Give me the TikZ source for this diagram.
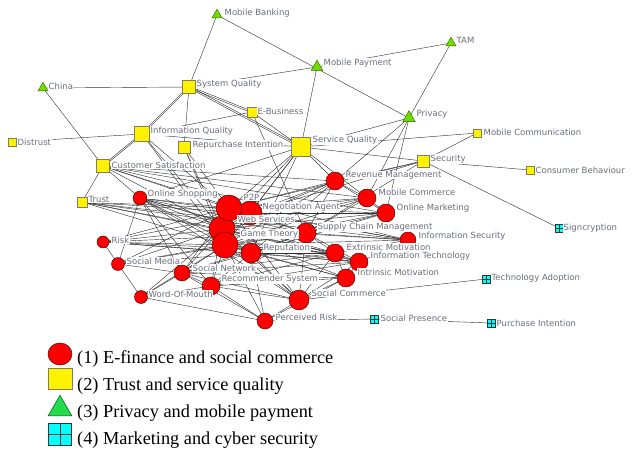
\documentclass[tikz,border=0pt]{standalone}
\usepackage{fontspec}
\setmainfont{Liberation Serif}
\newfontfamily\labfont{DejaVu Sans}
\usetikzlibrary{shapes.geometric}
\pgfdeclarelayer{edgelayer}
\pgfdeclarelayer{labellayer}
\pgfsetlayers{edgelayer,main,labellayer}
\definecolor{labgray}{RGB}{105,110,125}
\definecolor{lnkgray}{RGB}{50,50,50}
\definecolor{limegreen}{RGB}{110,222,0}
\definecolor{trigreen}{RGB}{35,220,75}
\definecolor{sqborder}{RGB}{130,125,95}
\definecolor{cyanfill}{RGB}{0,255,255}
\begin{document}
\begin{tikzpicture}[x=1pt,y=-1pt,
  cnode/.style={circle, draw={rgb,255:red,70;green,0;blue,0}, fill=red, line width=0.45pt, inner sep=0pt},
  snode/.style={rectangle, draw=sqborder, fill=yellow, line width=0.5pt, inner sep=0pt},
  tnode/.style={regular polygon, regular polygon sides=3, draw={rgb,255:red,60;green,100;blue,0}, fill=limegreen, line width=0.45pt, inner sep=0pt},
  gnode/.style={rectangle, draw=black!80, fill=cyanfill, line width=0.45pt, inner sep=0pt,
     path picture={\draw[black!80, line width=0.45pt] (path picture bounding box.north) -- (path picture bounding box.south) (path picture bounding box.west) -- (path picture bounding box.east);}},
  lab/.style={font=\labfont\fontsize{8.5}{10}\selectfont, text=labgray, fill=white, inner sep=0.5pt, anchor=west},
  lnk/.style={draw=lnkgray, line width=0.42pt},
  legtext/.style={font=\fontsize{18.3}{20}\selectfont, anchor=base west, inner sep=0pt}
]
\useasboundingbox (0,0) rectangle (637,455);

% ---------- nodes: triangles ----------
\node[tnode, minimum size=11.5pt] (mb) at (217,15) {};
\node[tnode, minimum size=11.5pt] (china) at (43,88) {};
\node[tnode, minimum size=13.5pt] (mp) at (317,67) {};
\node[tnode, minimum size=11.5pt] (tam) at (451,43) {};
\node[tnode, minimum size=14.5pt] (priv) at (409,118) {};
% ---------- squares ----------
\node[snode, minimum size=13pt] (syq) at (189,87) {};
\node[snode, minimum size=10pt] (eb) at (252,112) {};
\node[snode, minimum size=15pt] (iq) at (142,134) {};
\node[snode, minimum size=12pt] (ri) at (184,147) {};
\node[snode, minimum size=8pt] (dis) at (12,142) {};
\node[snode, minimum size=13pt] (cs) at (103,166) {};
\node[snode, minimum size=10pt] (trust) at (82,202) {};
\node[snode, minimum size=19pt] (svq) at (301,147) {};
\node[snode, minimum size=8pt] (mcomm) at (477,133) {};
\node[snode, minimum size=12pt] (sec) at (423,161) {};
\node[snode, minimum size=7.5pt] (cb) at (530,170) {};
% ---------- cyan ----------
\node[gnode, minimum size=8pt] (sign) at (559,228) {};
\node[gnode, minimum size=8pt] (ta) at (486,279) {};
\node[gnode, minimum size=8pt] (sp) at (374,319) {};
\node[gnode, minimum size=8pt] (pi) at (491,323) {};
% ---------- circles ----------
\node[cnode, minimum size=14pt] (os) at (140,198) {};
\node[cnode, minimum size=12pt] (risk) at (103,242) {};
\node[cnode, minimum size=13pt] (sm) at (118,264) {};
\node[cnode, minimum size=13pt] (wom) at (141,297) {};
\node[cnode, minimum size=16pt] (sn) at (182,273) {};
\node[cnode, minimum size=18pt] (rs) at (211,286) {};
\node[cnode, minimum size=24pt] (na) at (250,213) {};
\node[cnode, minimum size=26pt] (ws) at (222,229) {};
\node[cnode, minimum size=26pt] (p2p) at (229,208) {};
\node[cnode, minimum size=26pt] (gt) at (225,245) {};
\node[cnode, minimum size=20pt] (rep) at (251,253) {};
\node[cnode, minimum size=20pt] (scm) at (306,233) {};
\node[cnode, minimum size=18pt] (rm) at (335,181) {};
\node[cnode, minimum size=18pt] (mcom) at (367,198) {};
\node[cnode, minimum size=18pt] (om) at (386,213) {};
\node[cnode, minimum size=18pt] (em) at (335,253) {};
\node[cnode, minimum size=18pt] (it) at (359,262) {};
\node[cnode, minimum size=18pt] (im) at (346,278) {};
\node[cnode, minimum size=16pt] (is) at (408,240) {};
\node[cnode, minimum size=20pt] (sc) at (299,300) {};
\node[cnode, minimum size=16pt] (pr) at (265,321) {};

% ---------- edges ----------
\begin{pgfonlayer}{edgelayer}
\foreach \a/\b in {mb/syq, mb/priv, syq/mp, mp/tam, mp/svq, tam/priv, china/syq, china/cs, syq/ri,
  eb/iq, eb/scm, eb/svq, dis/iq, iq/svq, iq/p2p, iq/ws, iq/gt, ri/p2p, ri/ws, ri/gt,
  svq/os, svq/priv, svq/mcomm, svq/sec, svq/rm, svq/p2p, svq/na, svq/ws, svq/gt, svq/rep, svq/mcom,
  priv/rep, priv/mcom, priv/om, mcomm/sec, sec/cb, sec/sign, sec/rm, sec/na, sec/p2p, sec/scm,
  sc/ta, pr/sp, sp/pi, wom/pr, risk/sm, sm/wom, os/sm, trust/cs,
  cs/os, cs/p2p, cs/na, cs/ws, cs/om, cs/mcom, cs/is, cs/rm,
  trust/p2p, trust/na, trust/ws, trust/gt, trust/scm, trust/em, trust/is,
  os/p2p, os/ws, os/gt, os/na, os/rep, os/scm, os/em, os/it, os/rs, os/sn, os/sc,
  risk/p2p, risk/ws, risk/gt, risk/na, risk/scm, risk/em, risk/it, risk/rep,
  sm/p2p, sm/ws, sm/gt, sm/sn, sm/rep, sm/scm,
  wom/sn, wom/gt, wom/ws, wom/rs,
  sn/gt, sn/ws, sn/p2p, sn/rep, sn/scm, sn/em, sn/it, sn/im, sn/sc, sn/rs,
  rs/gt, rs/ws, rs/rep, rs/sc, rs/pr, rs/scm, rs/em, rs/im, rs/it,
  pr/sc, pr/gt, pr/rep, pr/sn, pr/im,
  sc/rep, sc/gt, sc/ws, sc/p2p, sc/em, sc/im, sc/it, sc/scm,
  p2p/ws, p2p/gt, p2p/na, ws/gt, gt/rep, na/ws, na/scm, na/rm, na/mcom, na/om,
  p2p/rm, p2p/mcom, p2p/om, p2p/scm, ws/scm, ws/em, ws/it, ws/im, gt/em, gt/it, gt/im, gt/scm,
  rep/em, rep/im, rep/it, rep/scm,
  rm/mcom, mcom/om, rm/om, rm/scm, mcom/scm, om/scm, scm/em, scm/it, scm/is, em/it, em/im, it/im,
  is/em, is/it, is/gt, is/ws, is/p2p, is/na,
  rm/ws, rm/gt, mcom/ws, mcom/gt, om/ws, om/gt, om/rep}
  \draw[lnk] (\a.center) -- (\b.center);
\foreach \a/\b in {syq/iq, syq/eb, syq/svq, iq/cs}{
  \draw[lnk] ([yshift=0.9pt]\a.center) -- ([yshift=0.9pt]\b.center);
  \draw[lnk] ([yshift=-0.9pt]\a.center) -- ([yshift=-0.9pt]\b.center);
}
\end{pgfonlayer}

% ---------- labels ----------
\begin{pgfonlayer}{labellayer}
\node[lab] (mbL) at (224,13) {Mobile Banking};
\node[lab] (chinaL) at (48,86) {China};
\node[lab] (mpL) at (323,63) {Mobile Payment};
\node[lab] (tamL) at (456,40) {TAM};
\node[lab] (privL) at (416,114) {Privacy};
\node[lab] (syqL) at (196,84) {System Quality};
\node[lab] (ebL) at (257,111) {E-Business};
\node[lab] (iqL) at (150,131) {Information Quality};
\node[lab] (riL) at (192,145) {Repurchase Intention};
\node[lab] (disL) at (17,142) {Distrust};
\node[lab] (csL) at (111,165) {Customer Satisfaction};
\node[lab] (trustL) at (88,199) {Trust};
\node[lab] (svqL) at (312,140) {Service Quality};
\node[lab] (mcommL) at (483,132) {Mobile Communication};
\node[lab] (secL) at (430,159) {Security};
\node[lab] (cbL) at (535,170) {Consumer Behaviour};
\node[lab] (signL) at (563,228) {Signcryption};
\node[lab] (taL) at (491,278) {Technology Adoption};
\node[lab] (spL) at (380,318) {Social Presence};
\node[lab] (piL) at (496,323) {Purchase Intention};
\node[lab] (osL) at (147,194) {Online Shopping};
\node[lab] (riskL) at (111,240) {Risk};
\node[lab] (smL) at (126,261) {Social Media};
\node[lab] (womL) at (148,294) {Word-Of-Mouth};
\node[lab] (snL) at (192,268) {Social Network};
\node[lab] (rsL) at (221,279) {Recommender System};
\node[lab] (p2pL) at (243,197) {P2P};
\node[lab] (naL) at (262,207) {Negotiation Agent};
\node[lab] (wsL) at (237,219) {Web Services};
\node[lab] (gtL) at (240,234) {Game Theory};
\node[lab] (repL) at (263,248) {Reputation};
\node[lab] (scmL) at (317,227) {Supply Chain Management};
\node[lab] (rmL) at (345,175) {Revenue Management};
\node[lab] (mcomL) at (378,192) {Mobile Commerce};
\node[lab] (omL) at (396,208) {Online Marketing};
\node[lab] (isL) at (418,236) {Information Security};
\node[lab] (emL) at (346,247) {Extrinsic Motivation};
\node[lab] (itL) at (370,256) {Information Technology};
\node[lab] (imL) at (357,272) {Intrinsic Motivation};
\node[lab] (scL) at (311,293) {Social Commerce};
\node[lab] (prL) at (275,317) {Perceived Risk};
\end{pgfonlayer}

% ---------- legend ----------
\node[ellipse, minimum width=24pt, minimum height=22pt, inner sep=0pt, fill=red, draw={rgb,255:red,90;green,0;blue,0}, line width=0.5pt] (k1) at (60,354) {};
\node[rectangle, minimum width=24pt, minimum height=21pt, inner sep=0pt, fill=yellow, draw=sqborder, line width=0.6pt] (k2) at (60,379) {};
\node[regular polygon, regular polygon sides=3, minimum size=27.5pt, inner sep=0pt, fill=trigreen, draw={rgb,255:red,0;green,90;blue,20}, line width=0.5pt] (k3) at (60,409) {};
\node[gnode, minimum width=23pt, minimum height=22pt] (k4) at (60,434) {};
\node[legtext] (t1) at (77,363) {(1) E-finance and social commerce};
\node[legtext] (t2) at (77,390) {(2) Trust and service quality};
\node[legtext] (t3) at (77,417) {(3) Privacy and mobile payment};
\node[legtext] (t4) at (77,444) {(4) Marketing and cyber security};
\end{tikzpicture}
\end{document}
